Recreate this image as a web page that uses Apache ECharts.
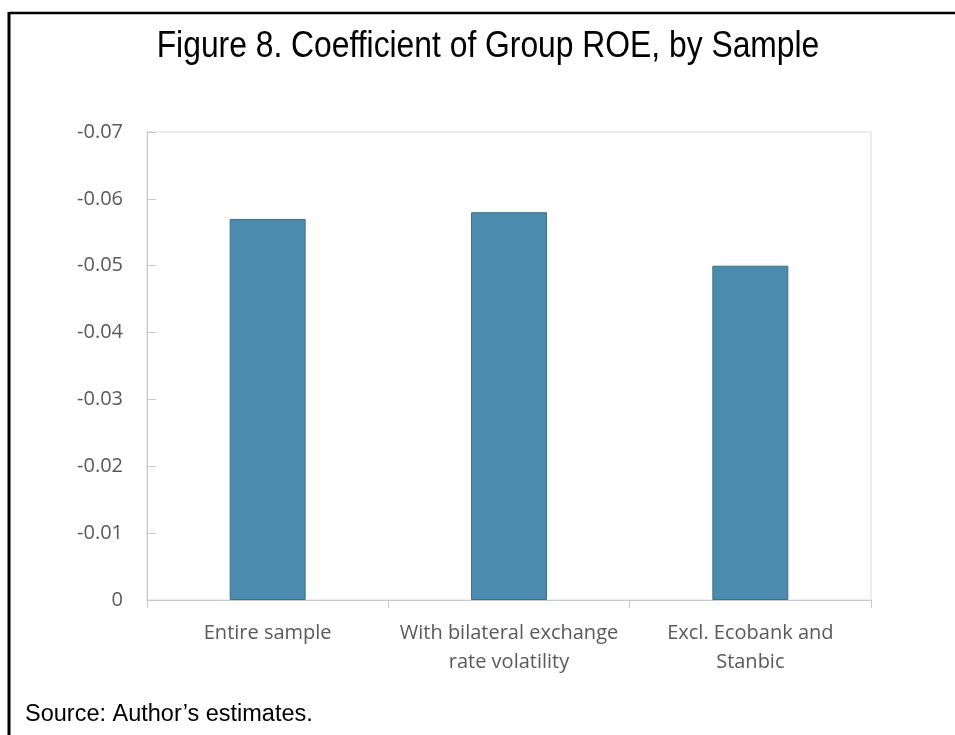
<!DOCTYPE html>
<html>
<head>
<meta charset="utf-8">
<script src="https://cdn.jsdelivr.net/npm/echarts@6/dist/echarts.min.js"></script>
<style>
html,body{margin:0;padding:0;background:#fff;}
#chart{width:955px;height:735px;}
</style>
</head>
<body>
<div id="chart"></div>
<script>
const titleText = 'Figure 8. Coefficient of Group ROE, by Sample';
const sourceText = 'Source: Author\u2019s estimates.';
const categories = ['Entire sample', 'With bilateral exchange\nrate volatility', 'Excl. Ecobank and\nStanbic'];
const coefficients = [-0.057, -0.058, -0.050];
const yTickLabels = ['0', '-0.01', '-0.02', '-0.03', '-0.04', '-0.05', '-0.06', '-0.07'];

const chart = echarts.init(document.getElementById('chart'), null, {renderer: 'canvas'});
const labelColor = '#595959';
const option = {
  backgroundColor: '#ffffff',
  animation: false,
  grid: {
    left: 147, right: 84, top: 132, bottom: 135,
    show: true, borderColor: '#d9d9d9', borderWidth: 1, backgroundColor: 'transparent'
  },
  xAxis: {
    type: 'category',
    data: categories,
    axisLine: {show: true, onZero: false, lineStyle: {color: '#c8c8c8', width: 1}},
    axisTick: {show: true, alignWithLabel: false, interval: 0, length: 8, lineStyle: {color: '#c8c8c8'}},
    axisLabel: {
      interval: 0, margin: 19, color: labelColor,
      fontFamily: 'Open Sans', fontSize: 20, lineHeight: 29, align: 'center'
    },
    splitLine: {show: false}
  },
  yAxis: {
    type: 'value',
    inverse: true,
    min: -0.07, max: 0, interval: 0.01,
    axisLine: {show: true, lineStyle: {color: '#c8c8c8', width: 1}},
    axisTick: {show: true, inside: true, length: 9, lineStyle: {color: '#c8c8c8'}},
    axisLabel: {
      margin: 24, color: labelColor, fontFamily: 'Open Sans', fontSize: 20,
      formatter: function (v) {
        const i = Math.round(-v / 0.01);
        return yTickLabels[i] !== undefined ? yTickLabels[i] : '';
      }
    },
    splitLine: {show: false}
  },
  series: [{
    type: 'bar',
    data: coefficients,
    barWidth: 76,
    itemStyle: {color: '#4b8bae', borderColor: '#3f6f8c', borderWidth: 1}
  }],
  graphic: [
    {
      type: 'line', silent: true,
      shape: {x1: 9, y1: 13, x2: 955, y2: 13},
      style: {stroke: '#000', lineWidth: 2.5}
    },
    {
      type: 'line', silent: true,
      shape: {x1: 9, y1: 12, x2: 9, y2: 735},
      style: {stroke: '#000', lineWidth: 3}
    },
    {
      type: 'text', silent: true,
      x: 488, y: 47, scaleX: 0.86, scaleY: 1,
      style: {
        text: titleText, fill: '#000',
        font: '37px "Liberation Sans", Arial, sans-serif',
        align: 'center', verticalAlign: 'middle'
      }
    },
    {
      type: 'text', silent: true,
      x: 25, y: 715,
      style: {
        text: sourceText, fill: '#000',
        font: '23.5px "Liberation Sans", Arial, sans-serif',
        align: 'left', verticalAlign: 'middle'
      }
    }
  ]
};
chart.setOption(option);
</script>
</body>
</html>
